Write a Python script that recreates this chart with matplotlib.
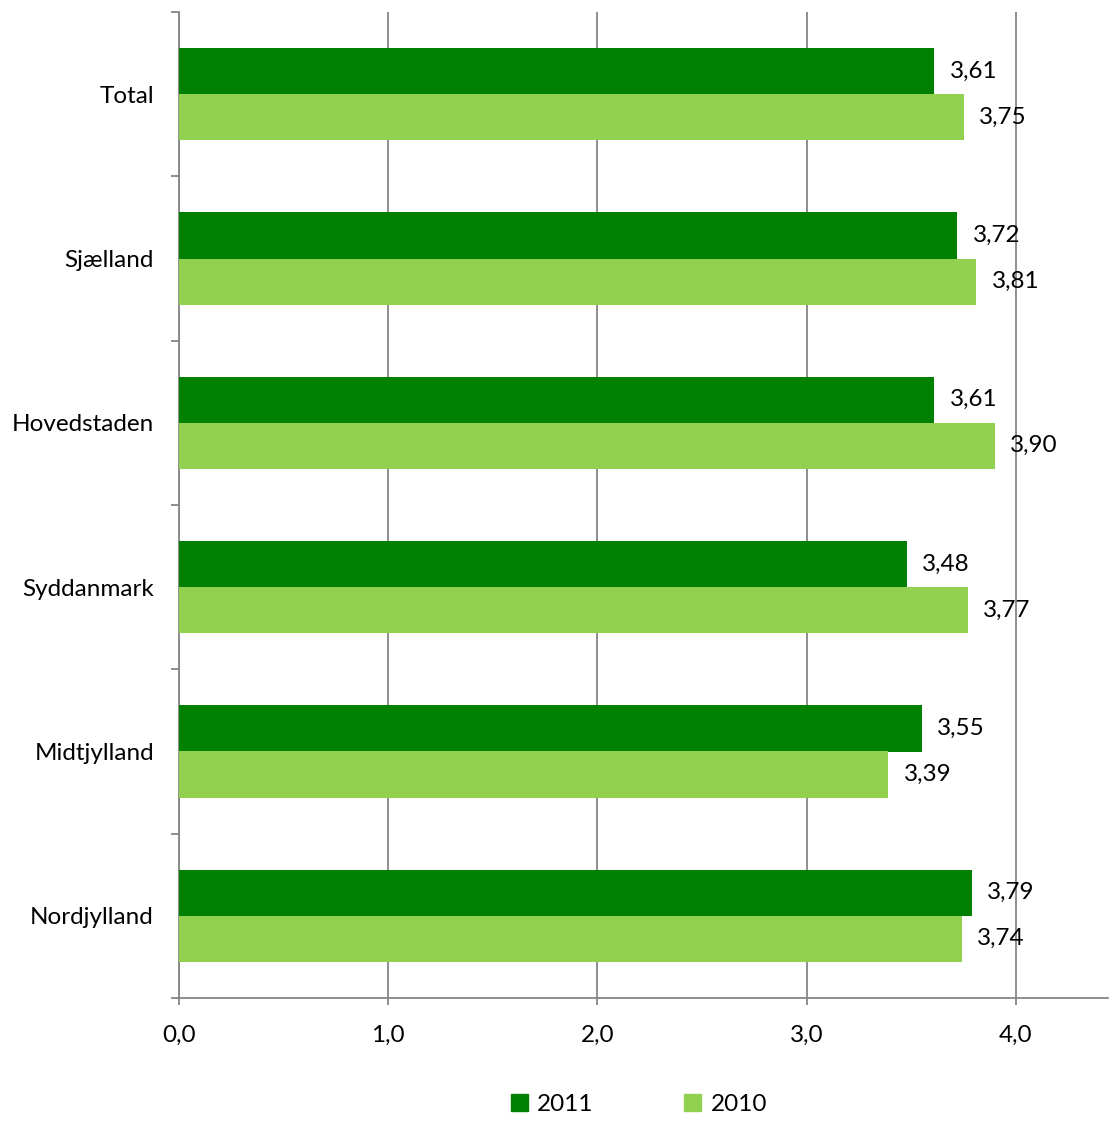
import numpy as np
import matplotlib.pyplot as plt
from matplotlib.patches import Patch

regioner = ['Total', 'Sjælland', 'Hovedstaden', 'Syddanmark', 'Midtjylland', 'Nordjylland']
vaerdier_2011 = [3.61, 3.72, 3.61, 3.48, 3.55, 3.79]
vaerdier_2010 = [3.75, 3.81, 3.90, 3.77, 3.39, 3.74]
x_ticks = [0, 1, 2, 3, 4]
x_labels = ['0,0', '1,0', '2,0', '3,0', '4,0']

plt.rcParams['font.family'] = ['Lato', 'DejaVu Sans']
fs = 17.5

fig = plt.figure(figsize=(11.09, 11.22), dpi=100)
ax = fig.add_axes([179 / 1109, 124 / 1122, 929 / 1109, 986 / 1122])

y = np.arange(len(regioner))
h = 0.28
mork = '#008000'
lys = '#92D050'

b1 = ax.barh(y - h / 2, vaerdier_2011, height=h, color=mork, zorder=3)
b2 = ax.barh(y + h / 2, vaerdier_2010, height=h, color=lys, zorder=3)

# værdietiketter
for bars, vals in [(b1, vaerdier_2011), (b2, vaerdier_2010)]:
    for bar, v in zip(bars, vals):
        ax.annotate(f'{v:.2f}'.replace('.', ','),
                    (v, bar.get_y() + bar.get_height() / 2),
                    xytext=(11, 0), textcoords='offset points',
                    ha='left', va='center', fontsize=fs, zorder=4)

ax.set_xlim(0, 4.44)
ax.set_ylim(len(regioner) - 0.5, -0.5)

ax.set_xticks(x_ticks)
ax.set_xticklabels(x_labels, fontsize=fs)
ax.set_yticks(y)
ax.set_yticklabels(regioner, fontsize=fs)
ax.set_yticks(np.arange(len(regioner) + 1) - 0.5, minor=True)

ax.tick_params(axis='y', which='major', length=0, pad=18)
ax.tick_params(axis='y', which='minor', length=6, color='#868686', width=1.3)
ax.tick_params(axis='x', length=5, color='#868686', width=1.3, pad=14)

ax.grid(axis='x', color='#868686', linewidth=1.3, zorder=0)
for s in ['top', 'right']:
    ax.spines[s].set_visible(False)
for s in ['left', 'bottom']:
    ax.spines[s].set_color('#868686')
    ax.spines[s].set_linewidth(1.3)

handles = [Patch(color=mork, label='2011'), Patch(color=lys, label='2010')]
fig.legend(handles=handles, loc='lower center', bbox_to_anchor=(0.576, -0.013),
           ncol=2, frameon=False, fontsize=fs, handlelength=0.7, handleheight=0.7,
           handletextpad=0.4, columnspacing=3.7)

fig.savefig('out.png', dpi=100)
